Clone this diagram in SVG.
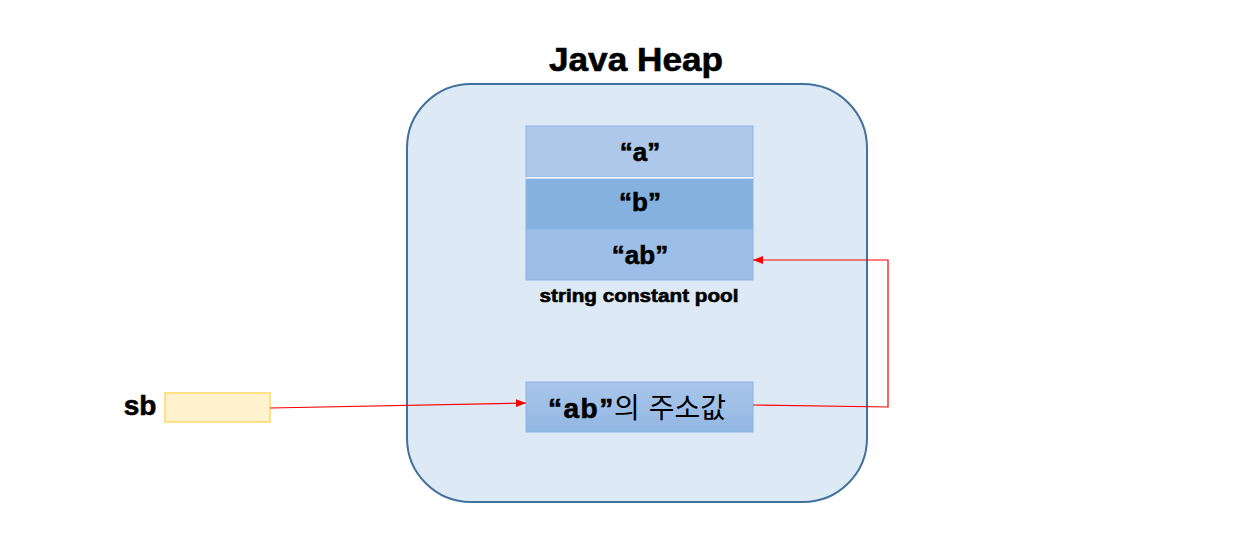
<svg xmlns="http://www.w3.org/2000/svg" width="1256" height="547" viewBox="0 0 1256 547">
<style>
.t{font-family:"Liberation Sans",Arial,sans-serif;font-weight:bold;fill:#000;stroke:#000;stroke-width:0.6;text-anchor:middle}
.k{font-family:"Liberation Sans","Noto Sans CJK KR",sans-serif;fill:#000}
.cell{stroke:#8db3e2;stroke-width:1}
.con{fill:none;stroke:#ff0000;stroke-width:1.2}
</style>
<defs>
<marker id="ah" markerWidth="10" markerHeight="8" refX="10" refY="4" orient="auto" markerUnits="userSpaceOnUse">
<path d="M0,0 L10,4 L0,8 Z" fill="#ff0000"/>
</marker>
<linearGradient id="gb" x1="0" y1="0" x2="0" y2="1">
<stop offset="0" stop-color="#a9c6ea"/>
<stop offset="1" stop-color="#92b7e3"/>
</linearGradient>
</defs>
<rect width="1256" height="547" fill="#ffffff"/>
<g id="title"><text class="t" x="636" y="71" font-size="34" textLength="174" lengthAdjust="spacingAndGlyphs">Java Heap</text></g>
<g id="heap"><rect x="407" y="84" width="460" height="418" rx="64" ry="64" fill="#dee9f6" stroke="#41719c" stroke-width="2"/></g>
<g id="pool">
<g id="cell-a"><rect class="cell" x="526" y="126" width="227" height="51" fill="#adc8e8"/><text class="t" x="640" y="161" font-size="26">“a”</text></g>
<line x1="526" y1="178" x2="753" y2="178" stroke="#ffffff" stroke-width="2"/>
<g id="cell-b"><rect class="cell" x="526" y="179" width="227" height="50" fill="#84b1dd"/><text class="t" x="640" y="211" font-size="26">“b”</text></g>
<g id="cell-ab"><rect class="cell" x="526" y="229" width="227" height="51" fill="#9dbee6"/><text class="t" x="640" y="264" font-size="26">“ab”</text></g>
<text class="t" x="639" y="302" font-size="18" stroke-width="0.4" textLength="199" lengthAdjust="spacingAndGlyphs">string constant pool</text>
</g>
<g id="addr"><rect x="526" y="382" width="227" height="50" fill="url(#gb)" stroke="#8db3e2" stroke-width="1"/>
<text class="k" y="418" font-size="28"><tspan x="548" font-weight="bold" stroke="#000" stroke-width="0.6" letter-spacing="1.5">“ab”</tspan><tspan x="614">의</tspan><tspan x="641"> 주소값</tspan></text></g>
<g id="sb"><text class="t" x="140" y="415" font-size="28">sb</text>
<rect x="165" y="393" width="105" height="29" fill="#fff2cc" stroke="#ffd966" stroke-width="1.5"/></g>
<g id="connectors">
<path class="con" d="M270,408 L526,403" marker-end="url(#ah)"/>
<path class="con" d="M753,405 L888,407 L888,260 L753,260" marker-end="url(#ah)"/>
</g>
</svg>
